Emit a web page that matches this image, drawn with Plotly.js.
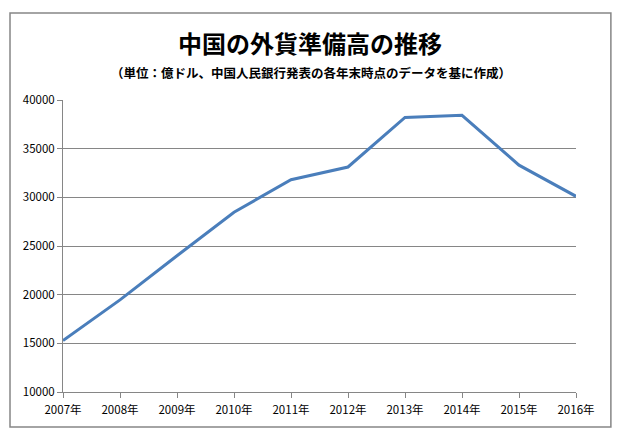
<!DOCTYPE html>
<html><head><meta charset="utf-8">
<script src="https://cdn.plot.ly/plotly-3.0.1.min.js"></script>
<style>html,body{margin:0;padding:0;background:#fff;}</style>
</head><body>
<div id="chart" style="width:626px;height:439px;"></div>
<script>
const years = ["2007年","2008年","2009年","2010年","2011年","2012年","2013年","2014年","2015年","2016年"];
const reserves = [15282, 19460, 23992, 28473, 31811, 33116, 38213, 38430, 33304, 30105];
const yTicks = [10000, 15000, 20000, 25000, 30000, 35000, 40000];
const titleText = "中国の外貨準備高の推移";
const subtitleText = "（単位：億ドル、中国人民銀行発表の各年末時点のデータを基に作成）";

const font = "'Noto Sans CJK JP', 'Noto Sans', sans-serif";
const trace = {
  x: years, y: reserves, type: "scatter", mode: "lines",
  line: {color: "#4a7ebb", width: 3}, hoverinfo: "skip"
};
const layout = {
  width: 626, height: 439,
  margin: {l: 63, r: 50, t: 100, b: 47},
  paper_bgcolor: "#fff", plot_bgcolor: "#fff",
  showlegend: false,
  font: {family: font, color: "#000", size: 11.5},
  xaxis: {
    type: "category", range: [0, years.length - 1],
    showgrid: false, showline: true, linecolor: "#868686", linewidth: 1,
    ticks: "outside", ticklen: 5, tickcolor: "#868686", ticklabelstandoff: 2,
    tickfont: {family: font, size: 11.5, color: "#000"}, fixedrange: true
  },
  yaxis: {
    range: [10000, 40000], tickvals: yTicks, ticktext: yTicks.map(String),
    showgrid: true, gridcolor: "#868686", gridwidth: 1,
    showline: true, linecolor: "#868686", linewidth: 1,
    ticks: "outside", ticklen: 5, tickcolor: "#868686",
    tickfont: {family: font, size: 11.5, color: "#000"}, zeroline: false, fixedrange: true
  },
  shapes: [{
    type: "rect", xref: "paper", yref: "paper",
    x0: -0.1033, x1: 1.068, y0: -0.120, y1: 1.298,
    line: {color: "#868686", width: 1.5}, fillcolor: "rgba(0,0,0,0)", layer: "below"
  }],
  annotations: [
    {text: "<b>" + titleText + "</b>", xref: "paper", yref: "paper",
     x: (310 - 63) / 513, y: 1 + (100 - 42) / 292, xanchor: "center", yanchor: "middle",
     showarrow: false, font: {family: font, size: 24, color: "#000"}},
    {text: "<b>" + subtitleText + "</b>", xref: "paper", yref: "paper",
     x: (311 - 63) / 513, y: 1 + (100 - 73) / 292, xanchor: "center", yanchor: "middle",
     showarrow: false, font: {family: font, size: 12.5, color: "#000"}}
  ]
};
Plotly.newPlot("chart", [trace], layout, {displayModeBar: false, staticPlot: true});
</script>
</body></html>
